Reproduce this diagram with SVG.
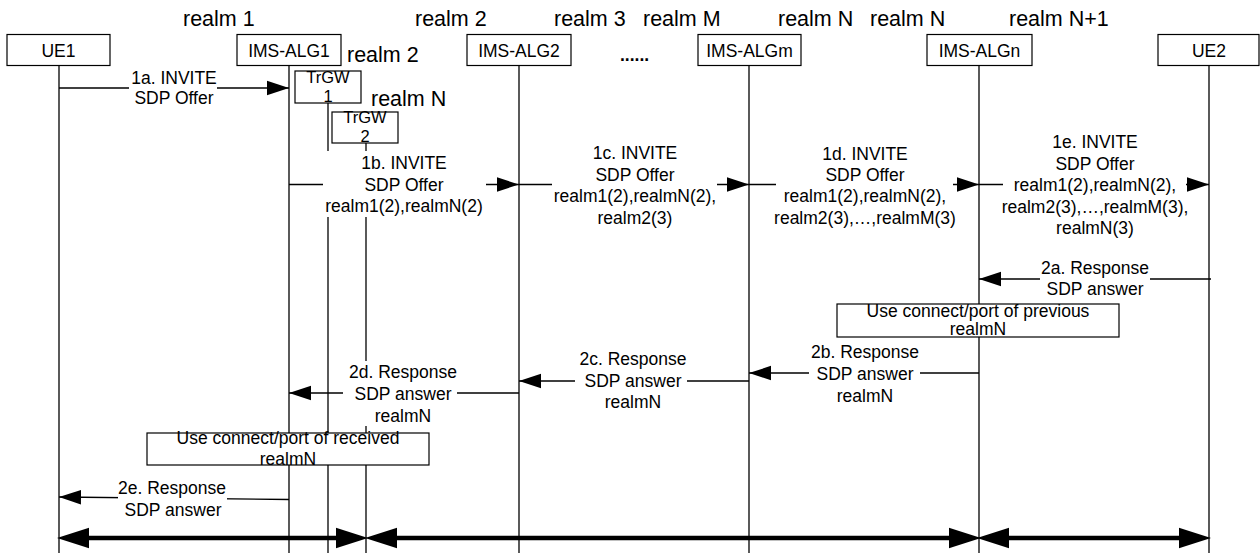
<svg xmlns="http://www.w3.org/2000/svg" width="1260" height="553" viewBox="0 0 1260 553">
  <style>
    text { font-family: "Liberation Sans", Arial, Helvetica, sans-serif; fill: #000; }
    .lbl { font-size: 17.5px; text-anchor: middle; }
    .small { font-size: 16.5px; text-anchor: middle; }
    .realm { font-size: 21.5px; }
    .box { fill: #fff; stroke: #000; stroke-width: 1.2; }
    .life { stroke: #000; stroke-width: 1.3; fill: none; }
    .msg { stroke: #000; stroke-width: 1.3; fill: none; marker-end: url(#head); }
    .span { stroke: #000; stroke-width: 4.5; fill: none; marker-start: url(#bighead); marker-end: url(#bighead); }
    .bg { fill: #fff; }
  </style>
  <defs>
    <marker id="head" markerUnits="userSpaceOnUse" markerWidth="22" markerHeight="16" viewBox="0 -7 20 14" refX="20" refY="0" orient="auto">
      <path d="M0,-6.5 L20,0 L0,6.5 z" fill="#000"/>
    </marker>
    <marker id="bighead" markerUnits="userSpaceOnUse" markerWidth="32" markerHeight="22" viewBox="0 -10 30 20" refX="0" refY="0" orient="auto-start-reverse">
      <path d="M0,-9.5 L30,0 L0,9.5 z" fill="#000"/>
    </marker>
  </defs>

  <rect width="1260" height="553" fill="#fff"/>

  <!-- realm labels -->
  <g id="realms" class="realm">
    <text x="183" y="26">realm 1</text>
    <text x="415" y="26">realm 2</text>
    <text x="554" y="26">realm 3</text>
    <text x="643" y="26">realm M</text>
    <text x="778" y="26">realm N</text>
    <text x="870" y="26">realm N</text>
    <text x="1009" y="26">realm N+1</text>
    <text x="347" y="62">realm 2</text>
    <text x="371" y="106">realm N</text>
  </g>

  <!-- participants with lifelines -->
  <g id="UE1">
    <line class="life" x1="59" y1="65" x2="59" y2="553"/>
    <rect class="box" x="7" y="34.5" width="103" height="31"/>
    <text class="lbl" x="58.5" y="56.5">UE1</text>
  </g>
  <g id="IMS-ALG1">
    <line class="life" x1="289" y1="65" x2="289" y2="553"/>
    <rect class="box" x="237" y="34.5" width="104" height="31"/>
    <text class="lbl" x="289" y="56.5">IMS-ALG1</text>
  </g>
  <g id="TrGW1">
    <line class="life" x1="328" y1="103" x2="328" y2="553"/>
    <rect class="box" x="295" y="71" width="66" height="32"/>
    <text class="small" x="328" y="83">TrGW</text>
    <text class="small" x="328" y="102">1</text>
  </g>
  <g id="TrGW2">
    <line class="life" x1="366" y1="143" x2="366" y2="553"/>
    <rect class="box" x="332" y="112" width="66" height="31"/>
    <text class="small" x="365" y="123">TrGW</text>
    <text class="small" x="365" y="142">2</text>
  </g>
  <g id="IMS-ALG2">
    <line class="life" x1="519" y1="65" x2="519" y2="553"/>
    <rect class="box" x="467" y="34.5" width="104" height="31"/>
    <text class="lbl" x="519" y="56.5">IMS-ALG2</text>
  </g>
  <g id="ellipsis">
    <text x="620" y="61" style="font-size:17.5px;font-weight:bold">......</text>
  </g>
  <g id="IMS-ALGm">
    <line class="life" x1="749" y1="65" x2="749" y2="553"/>
    <rect class="box" x="698" y="34.5" width="103" height="31"/>
    <text class="lbl" x="749.5" y="56.5">IMS-ALGm</text>
  </g>
  <g id="IMS-ALGn">
    <line class="life" x1="979" y1="65" x2="979" y2="553"/>
    <rect class="box" x="927" y="34.5" width="105" height="31"/>
    <text class="lbl" x="979.5" y="56.5">IMS-ALGn</text>
  </g>
  <g id="UE2">
    <line class="life" x1="1209" y1="65" x2="1209" y2="553"/>
    <rect class="box" x="1158" y="34.5" width="101" height="31"/>
    <text class="lbl" x="1209" y="56.5">UE2</text>
  </g>

  <!-- signalling messages -->
  <g id="connectors">
    <path class="msg" d="M59,88 H289"/>
    <path class="msg" d="M289,184.5 H519"/>
    <path class="msg" d="M519,184.5 H749"/>
    <path class="msg" d="M749,184.5 H979"/>
    <path class="msg" d="M979,184.5 H1209"/>
    <path class="msg" d="M1211,279 H979"/>
    <path class="msg" d="M979,373 H749"/>
    <path class="msg" d="M749,381 H519"/>
    <path class="msg" d="M519,393 H289"/>
    <path class="msg" d="M289,499.5 L59,497"/>

    <!-- label backgrounds break the lines under the text -->
    <rect class="bg" x="129" y="69" width="88" height="39"/>
    <rect class="bg" x="323" y="151" width="163" height="66"/>
    <rect class="bg" x="552" y="143" width="165" height="86"/>
    <rect class="bg" x="776" y="143" width="177" height="86"/>
    <rect class="bg" x="1003" y="131" width="183" height="108"/>
    <rect class="bg" x="1040" y="259" width="110" height="41"/>
    <rect class="bg" x="809" y="343" width="111" height="64"/>
    <rect class="bg" x="575" y="349" width="112" height="63"/>
    <rect class="bg" x="343" y="361" width="114" height="65"/>
    <rect class="bg" x="118" y="480" width="109" height="40"/>

    <g class="lbl">
      <text x="174" y="84">1a. INVITE</text>
      <text x="174" y="104">SDP Offer</text>

      <text x="404" y="169">1b. INVITE</text>
      <text x="404" y="190.5">SDP Offer</text>
      <text x="404" y="212">realm1(2),realmN(2)</text>

      <text x="635" y="159">1c. INVITE</text>
      <text x="635" y="181">SDP Offer</text>
      <text x="635" y="202">realm1(2),realmN(2),</text>
      <text x="635" y="224">realm2(3)</text>

      <text x="865" y="160">1d. INVITE</text>
      <text x="865" y="181">SDP Offer</text>
      <text x="865" y="202">realm1(2),realmN(2),</text>
      <text x="865" y="224">realm2(3),…,realmM(3)</text>

      <text x="1095" y="148">1e. INVITE</text>
      <text x="1095" y="170">SDP Offer</text>
      <text x="1095" y="191">realm1(2),realmN(2),</text>
      <text x="1095" y="213">realm2(3),…,realmM(3),</text>
      <text x="1095" y="234">realmN(3)</text>

      <text x="1095" y="274">2a. Response</text>
      <text x="1095" y="295">SDP answer</text>

      <text x="865" y="358">2b. Response</text>
      <text x="865" y="380">SDP answer</text>
      <text x="865" y="402">realmN</text>

      <text x="633" y="365">2c. Response</text>
      <text x="633" y="387">SDP answer</text>
      <text x="633" y="408">realmN</text>

      <text x="403" y="378">2d. Response</text>
      <text x="403" y="400">SDP answer</text>
      <text x="403" y="422">realmN</text>

      <text x="172" y="494">2e. Response</text>
      <text x="173" y="516">SDP answer</text>
    </g>

    <!-- media path spans -->
    <path class="span" d="M89,538 H336"/>
    <path class="span" d="M397,538 H949"/>
    <path class="span" d="M1009,538 H1179"/>
  </g>

  <!-- notes -->
  <g id="note-previous">
    <rect class="box" x="837" y="304" width="282" height="33"/>
    <text class="lbl" x="978" y="317">Use connect/port of previous</text>
    <text class="lbl" x="978" y="335">realmN</text>
  </g>
  <g id="note-received">
    <rect class="box" x="147" y="433" width="282" height="32"/>
    <text class="lbl" x="288" y="444">Use connect/port of received</text>
    <text class="lbl" x="288" y="465">realmN</text>
  </g>
</svg>
